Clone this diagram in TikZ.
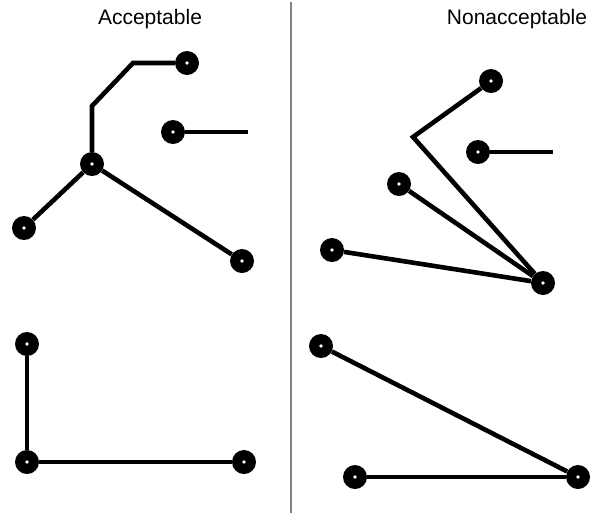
\documentclass[tikz,border=0pt]{standalone}
\usepackage{fontspec}
\setmainfont{Liberation Sans}
\begin{document}
\begin{tikzpicture}[x=1pt,y=-1pt,
  dotnode/.style={circle, fill=black, minimum size=24pt, inner sep=0pt,
    path picture={\fill[white] (path picture bounding box.center) circle (1.9pt);}},
  link/.style={line width=4.6pt, black},
  title/.style={anchor=base, inner sep=0pt, font=\fontsize{21}{25}\selectfont},
  divider/.style={line width=2pt, color=black!50}]
\useasboundingbox (0,0) rectangle (599,515);
% titles and divider
\node[title] (tl) at (150,24) {Acceptable};
\node[title] (tr) at (517,24) {Nonacceptable};
\coordinate (dtop) at (291,2);
\coordinate (dbot) at (291,513);
\draw[divider] (dtop) -- (dbot);
% ---------- left top ----------
\coordinate (a1) at (133,63);
\coordinate (a2) at (92,106);
\coordinate (bend) at (248,132);
\node[dotnode] (at) at (187,63) {};
\node[dotnode] (ab) at (173,132) {};
\node[dotnode] (ac) at (92,164) {};
\node[dotnode] (al) at (24,228) {};
\node[dotnode] (ar) at (242,261) {};
\draw[link] (at) -- (a1) -- (a2) -- (ac);
\draw[link] (ab) -- (bend);
\draw[link] (ac) -- (al);
\draw[link] (ac) -- (ar);
% ---------- right top ----------
\coordinate (b1) at (413,137);
\coordinate (cend) at (553,152);
\node[dotnode] (rt) at (491,81) {};
\node[dotnode] (rm) at (478,152) {};
\node[dotnode] (rl) at (399,184) {};
\node[dotnode] (rb) at (332,250) {};
\node[dotnode] (rh) at (543,283) {};
\draw[link] (rt) -- (b1) -- (rh);
\draw[link] (rm) -- (cend);
\draw[link] (rl) -- (rh);
\draw[link] (rb) -- (rh);
% ---------- left bottom ----------
\node[dotnode] (lt) at (27,344) {};
\node[dotnode] (lc) at (27,462) {};
\node[dotnode] (lr) at (244,462) {};
\draw[link] (lt) -- (lc);
\draw[link] (lc) -- (lr);
% ---------- right bottom ----------
\node[dotnode] (st) at (321,346) {};
\node[dotnode] (sl) at (355,477) {};
\node[dotnode] (sr) at (578,477) {};
\draw[link] (st) -- (sr);
\draw[link] (sl) -- (sr);
\end{tikzpicture}
\end{document}
